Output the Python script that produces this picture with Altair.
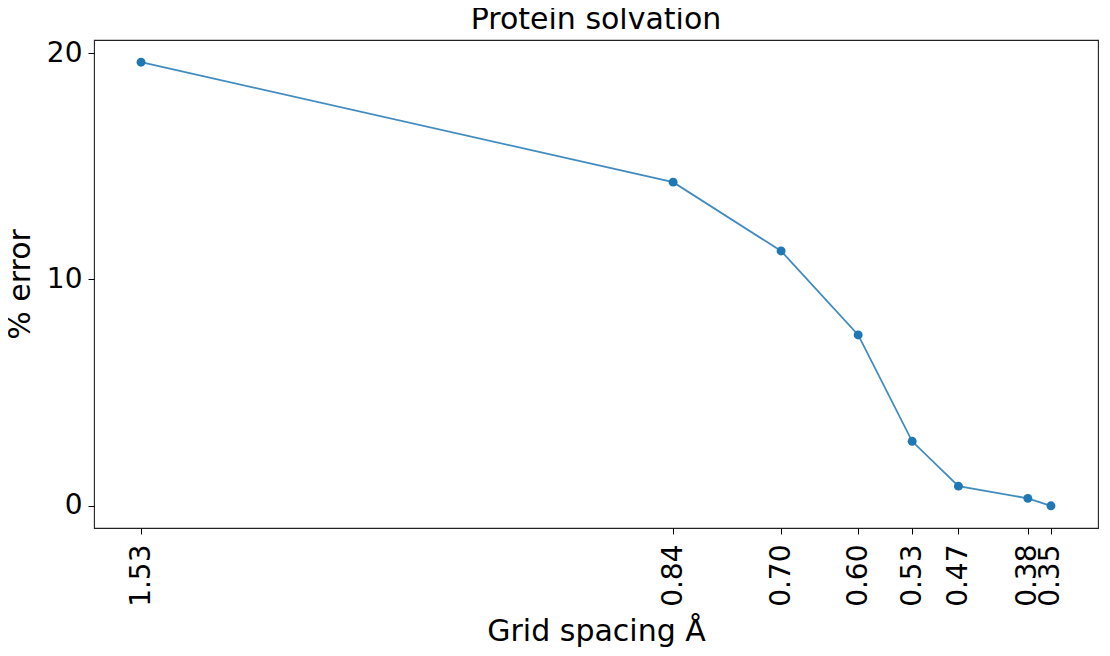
import altair as alt
import pandas as pd

spacing = [1.53, 0.84, 0.70, 0.60, 0.53, 0.47, 0.38, 0.35]
error = [19.6, 14.3, 11.26, 7.55, 2.85, 0.87, 0.33, 0.0]
y_ticks = [0, 10, 20]

df = pd.DataFrame({"spacing": spacing, "error": error})

FONT = "DejaVu Sans"
BLUE = "#1f77b4"

x_enc = alt.X(
    "spacing:Q",
    scale=alt.Scale(domain=[0.2890, 1.5910], reverse=True, nice=False, zero=False),
    axis=alt.Axis(
        values=spacing, format=".2f", labelAngle=270, labelAlign="right",
        labelBaseline="middle", labelFontSize=28, labelFont=FONT, labelColor="#000",
        tickSize=6, tickColor="#000", labelPadding=10, grid=False, domain=False,
        title="Grid spacing Å", titleFont=FONT, titleFontSize=30, titleFontWeight="normal",
        titleColor="#000", titlePadding=10, labelOverlap=False, labelFlush=False,
    ),
)
y_enc = alt.Y(
    "error:Q",
    scale=alt.Scale(domain=[-0.98, 20.58], nice=False, zero=False),
    axis=alt.Axis(
        values=y_ticks, format="d", labelFontSize=28, labelFont=FONT, labelColor="#000",
        tickSize=6, tickColor="#000", labelPadding=6, grid=False, domain=False,
        title="% error", titleFont=FONT, titleFontSize=30, titleFontWeight="normal",
        titleColor="#000", titlePadding=11,
    ),
)

base = alt.Chart(df).encode(x=x_enc, y=y_enc)
line = base.mark_line(color=BLUE, strokeWidth=1.8, opacity=0.85)
pts = base.mark_point(filled=True, size=80, color=BLUE, opacity=1)

chart = (
    (line + pts)
    .properties(
        width=1004,
        height=488,
        autosize=alt.AutoSizeParams(type="none"),
        padding={"left": 86, "top": 32, "right": 4, "bottom": 120},
        title=alt.TitleParams("Protein solvation", font=FONT, fontSize=30,
                              fontWeight="normal", color="#000", offset=4),
    )
    .configure(background="white")
    .configure_view(stroke="#222", strokeWidth=1.1)
)

chart.save("out.html", embed_options={"renderer": "svg", "actions": False})
